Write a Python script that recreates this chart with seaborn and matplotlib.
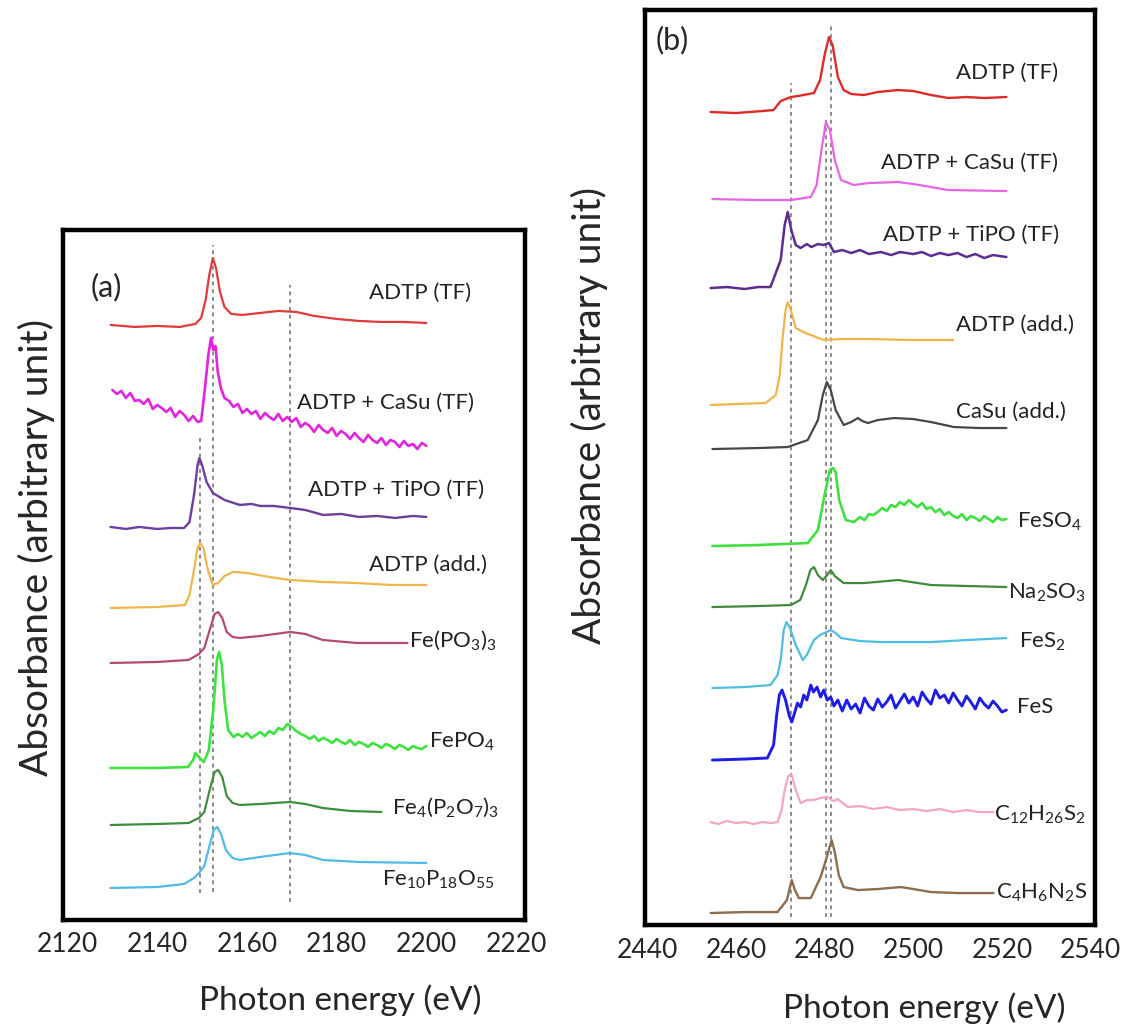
import matplotlib
matplotlib.use("Agg")
import matplotlib.pyplot as plt
import seaborn as sns
import numpy as np

# ---------------- panel (a): P K-edge, values = absorbance + stacking offset (a.u.)
a_tf_e = [2129.6, 2135, 2140, 2145, 2148.5, 2149.8, 2150.8, 2151.6, 2152.4, 2153.1, 2154, 2155,
          2156.5, 2159, 2163, 2167, 2171, 2175, 2180, 2185, 2190, 2195, 2200]
a_tf_y = [595, 593, 594, 593, 596, 602, 620, 645, 662, 652, 628, 613,
          606, 605, 607, 609, 608, 604, 601, 599, 598, 598, 597]

a_casu_e = list(range(2130, 2150)) + [2149.8, 2150.6, 2151.4, 2152.0, 2152.5, 2153.0, 2153.5, 2154.2] \
    + list(range(2155, 2201))
a_casu_y = [530, 526, 529, 522, 527, 519, 520, 516, 521, 511, 515, 512, 508, 512, 503, 509, 505, 499, 504, 498,
            499, 530, 565, 582, 570, 574, 548, 532,
            522, 519, 513, 516, 507, 511, 506, 509, 501, 507, 503, 500, 506, 499, 503, 498, 502, 493, 497, 494,
            488, 495, 490, 487, 492, 484, 489, 486, 481, 487, 482, 478, 485, 480, 477, 482, 475, 480, 478, 473,
            479, 474, 476, 471, 477, 474]

a_tipo_e = [2129.6, 2133, 2136, 2140, 2143, 2146, 2147.2, 2148.2, 2149.0, 2149.4, 2150.0, 2151, 2152.4, 2155,
            2158.4, 2161, 2163, 2166, 2169.6, 2173, 2177, 2181, 2185, 2189, 2193, 2197, 2200]
a_tipo_y = [393, 391, 393, 391, 392, 392, 398, 425, 455, 462, 455, 438, 427, 420,
            415, 416, 414, 414, 412, 410, 405, 406, 403, 404, 402, 404, 403]

a_add_e = [2129.6, 2140, 2146.2, 2147.2, 2148.2, 2149.0, 2149.6, 2150.3, 2151.3, 2152.4, 2153.6, 2155,
           2156.9, 2160, 2165, 2169.6, 2177, 2184.4, 2192, 2200]
a_add_y = [312, 313, 315, 325, 350, 372, 377, 372, 350, 335, 337, 344,
           348, 347, 343, 340, 338, 337, 335, 335]

a_fepo3_e = [2129.6, 2140, 2147, 2149.3, 2150.5, 2151.7, 2152.8, 2153.6, 2154.5, 2155.5, 2156.8, 2158.4,
             2163, 2169.6, 2173, 2176.9, 2184.4, 2195.8]
a_fepo3_y = [257, 258, 260, 266, 272, 290, 306, 308, 302, 288, 283, 282,
             284, 288, 286, 280, 277, 277]

a_fepo4_e = [2129.6, 2140, 2146.9, 2148.0, 2148.5, 2149.3, 2150.4, 2151.5, 2152.5, 2153.3, 2153.8, 2154.4,
             2155.0, 2155.8, 2157] + list(range(2158, 2201))
a_fepo4_y = [152, 152, 153, 160, 167, 163, 158, 170, 210, 260, 268, 255, 220, 190, 183,
             186, 183, 187, 182, 185, 188, 184, 189, 186, 192, 190, 196, 193, 189, 186, 184, 181, 184,
             179, 182, 180, 177, 181, 178, 176, 180, 175, 178, 176, 173, 177, 175, 172, 176, 174, 171,
             175, 173, 170, 174, 172, 171, 174]

a_fe4_e = [2129.6, 2140, 2147, 2149.3, 2150.5, 2151.7, 2152.8, 2153.6, 2154.5, 2155.5, 2156.8, 2158.4,
           2163, 2169.6, 2173, 2176.9, 2183, 2190]
a_fe4_y = [95, 96, 97, 102, 108, 130, 148, 150, 143, 124, 117, 115,
           116, 118, 116, 112, 109, 108]

a_fe10_e = [2129.6, 2140, 2146, 2148.2, 2149.3, 2150.5, 2151.7, 2152.6, 2153.4, 2154.3, 2155.3, 2156.8,
            2158.4, 2163, 2169.6, 2173, 2176.9, 2185, 2200]
a_fe10_y = [32, 33, 36, 42, 47, 54, 75, 90, 93, 85, 70, 62,
            60, 63, 67, 65, 60, 58, 57]

a_names = ["ADTP (TF)", "ADTP + CaSu (TF)", "ADTP + TiPO (TF)", "ADTP (add.)",
           "Fe(PO$_3$)$_3$", "FePO$_4$", "Fe$_4$(P$_2$O$_7$)$_3$", "Fe$_{10}$P$_{18}$O$_{55}$"]
a_colors = ["#e23a3a", "#e024e0", "#6b3f9c", "#efb64c", "#b24a72", "#3ee23e", "#3f8d3f", "#4fbbe6"]
a_widths = [1.6, 1.9, 1.7, 1.6, 1.6, 1.9, 1.6, 1.6]
a_label_e = [2187.3, 2171.1, 2173.6, 2187.3, 2196.2, 2200.7, 2192.4, 2190.2]
a_label_y = [627, 517, 430, 355, 280, 178, 113, 40]
a_ref_e = [2149.6, 2152.4, 2169.6]
a_ref_lo = [27, 28, 18]
a_ref_hi = [482, 675, 635]

# ---------------- panel (b): S K-edge
b_tf_e = [2454.3, 2460, 2466, 2468.5, 2470.1, 2472.4, 2474, 2477.6, 2479, 2480, 2481, 2481.8, 2483.0,
          2484.3, 2486, 2488.9, 2492, 2496.6, 2500, 2504, 2507.9, 2512, 2516, 2521]
b_tf_y = [813, 812, 814, 815, 824, 828, 829, 832, 845, 870, 888, 880, 848,
          835, 831, 830, 833, 835, 834, 830, 827, 828, 827, 828]

b_casu_tf_e = [2454.7, 2465, 2472.4, 2476.9, 2478.2, 2479.3, 2480.3, 2481.2, 2482.3, 2483.7, 2486.6, 2490,
               2496.6, 2500, 2504, 2507.9, 2521]
b_casu_tf_y = [726, 725, 725, 728, 740, 775, 803, 795, 765, 745, 740, 742,
               743, 741, 738, 735, 734]

b_tipo_e = [2454.3, 2458, 2462, 2465, 2467.8, 2470.1, 2471.0, 2471.7, 2472.5, 2473.5, 2474.6, 2476, 2477,
            2478.5, 2479.8, 2481, 2482.1, 2484, 2486, 2488, 2490, 2492.7, 2495, 2497, 2500, 2502, 2504,
            2506, 2507.9, 2510, 2512, 2514, 2516, 2518, 2521]
b_tipo_y = [637, 638, 636, 638, 638, 665, 700, 713, 695, 680, 677, 681, 678,
            681, 680, 682, 673, 675, 672, 675, 671, 673, 670, 673, 671, 673, 669,
            672, 670, 672, 668, 671, 667, 670, 668]

b_add_e = [2454.3, 2460, 2466.7, 2469, 2469.9, 2470.5, 2471.2, 2471.7, 2472.4, 2473.5, 2475.7, 2479.8,
           2483.7, 2490, 2500, 2509]
b_add_y = [520, 521, 522, 530, 550, 585, 615, 623, 615, 597, 592, 585,
           586, 586, 585, 585]

b_casu_e = [2454.7, 2465, 2471.7, 2476.2, 2478.5, 2479.6, 2480.5, 2481.4, 2482.5, 2484.3, 2486, 2487.5,
            2488.5, 2489.8, 2492, 2495.7, 2500, 2504, 2509.2, 2515, 2521]
b_casu_y = [476, 477, 478, 485, 505, 530, 543, 535, 515, 500, 503, 507,
            504, 502, 505, 507, 506, 503, 498, 497, 497]

b_feso4_e = [2454.7, 2465, 2476.2, 2478.5, 2480, 2481.2, 2481.9, 2482.5, 2483.3, 2484.8, 2486.6] \
    + list(range(2488, 2522))
b_feso4_y = [379, 380, 382, 395, 430, 455, 457, 453, 425, 405, 403,
             408, 405, 411, 410, 413, 417, 414, 420, 418, 423, 420, 425, 421, 418, 422, 416, 418, 413,
             416, 410, 413, 409, 407, 411, 405, 409, 407, 404, 409, 406, 403, 408, 405, 406]

b_na_e = [2454.7, 2465, 2472.4, 2474.5, 2475.8, 2476.8, 2477.6, 2478.5, 2479.6, 2480.6, 2481.4, 2482.3,
          2484.3, 2488.9, 2496.6, 2504, 2521]
b_na_y = [318, 319, 320, 325, 340, 355, 358, 350, 345, 350, 355, 349,
          342, 342, 345, 340, 338]

b_fes2_e = [2454.7, 2462, 2467.8, 2469.4, 2470.1, 2470.8, 2471.4, 2472.2, 2473.5, 2475.1, 2476, 2477.6,
            2479, 2481.4, 2482.5, 2483.7, 2488, 2492.7, 2504, 2512, 2521]
b_fes2_y = [237, 238, 240, 250, 265, 295, 303, 297, 280, 265, 270, 285,
            290, 295, 292, 287, 284, 283, 283, 285, 287]

b_fes_e = [2454.7, 2462, 2467.1, 2468.5, 2469.2, 2469.8, 2470.4, 2471.2, 2472, 2472.6, 2473.3, 2473.9,
           2474.6, 2475.3, 2476, 2476.9, 2477.5, 2478.3, 2479.1, 2479.8, 2480.6, 2481.4, 2482.1, 2483] \
    + list(range(2484, 2522))
b_fes_y = [165, 166, 167, 180, 210, 230, 235, 225, 210, 203, 213, 222,
           218, 230, 225, 240, 233, 238, 228, 235, 225, 228, 219, 225,
           214, 225, 216, 221, 212, 227, 219, 215, 226, 218, 223, 230, 217, 224, 231, 222, 228, 219, 233,
           226, 221, 235, 227, 230, 222, 232, 225, 219, 229, 223, 216, 227, 221, 217, 224, 219, 213, 215]

b_c12_e = [2454.3, 2456, 2458, 2460, 2462, 2464, 2466, 2468, 2469.4, 2470.3, 2471, 2471.8, 2472.6, 2473.5,
           2474.6, 2476, 2477.6, 2479, 2480.7, 2482, 2483, 2485.2, 2488, 2491, 2494, 2497, 2500, 2503,
           2506, 2509, 2512, 2515, 2518.1]
b_c12_y = [103, 101, 104, 102, 103, 101, 103, 102, 103, 115, 135, 149, 150, 135,
           122, 125, 125, 127, 128, 124, 126, 118, 119, 116, 118, 115, 116, 114,
           116, 113, 115, 113, 113]

b_c4_e = [2454.3, 2462, 2469.4, 2471.5, 2472.6, 2473.3, 2474.2, 2476.9, 2479.1, 2480.3, 2481.6, 2482.3,
          2483.2, 2484.3, 2487.5, 2492, 2497.2, 2500, 2504, 2510, 2518.1]
b_c4_y = [12, 13, 13, 25, 45, 35, 27, 27, 48, 65, 85, 73,
          50, 38, 35, 36, 38, 36, 33, 32, 32]

b_names = ["ADTP (TF)", "ADTP + CaSu (TF)", "ADTP + TiPO (TF)", "ADTP (add.)", "CaSu (add.)",
           "FeSO$_4$", "Na$_2$SO$_3$", "FeS$_2$", "FeS", "C$_{12}$H$_{26}$S$_2$", "C$_4$H$_6$N$_2$S"]
b_colors = ["#e02a2a", "#e565e5", "#5c2c8f", "#f0b54a", "#474747", "#40e040", "#3f8a3f", "#4dbde2",
            "#1d1de6", "#f5a6b8", "#8e6c4c"]
b_widths = [1.7, 1.6, 1.8, 1.6, 1.6, 1.9, 1.6, 1.6, 2.1, 1.6, 1.7]
b_label_e = [2509.7, 2492.7, 2493.2, 2509.7, 2509.7, 2523.3, 2521.4, 2523.9, 2523.3, 2518.3, 2518.7]
b_label_y = [852, 762, 690, 600, 513, 403, 332, 283, 218, 110, 32]
b_ref_e = [2472.4, 2480.3, 2481.4]
b_ref_lo = [8, 8, 8]
b_ref_hi = [842, 807, 902]

a_curves = [(a_tf_e, a_tf_y), (a_casu_e, a_casu_y), (a_tipo_e, a_tipo_y), (a_add_e, a_add_y),
            (a_fepo3_e, a_fepo3_y), (a_fepo4_e, a_fepo4_y), (a_fe4_e, a_fe4_y), (a_fe10_e, a_fe10_y)]
b_curves = [(b_tf_e, b_tf_y), (b_casu_tf_e, b_casu_tf_y), (b_tipo_e, b_tipo_y), (b_add_e, b_add_y),
            (b_casu_e, b_casu_y), (b_feso4_e, b_feso4_y), (b_na_e, b_na_y), (b_fes2_e, b_fes2_y),
            (b_fes_e, b_fes_y), (b_c12_e, b_c12_y), (b_c4_e, b_c4_y)]

sns.set_style("white")
plt.rcParams['font.family'] = ['Lato', 'DejaVu Sans']
plt.rcParams['mathtext.fontset'] = 'custom'
plt.rcParams['mathtext.rm'] = 'Lato'
plt.rcParams['mathtext.it'] = 'Lato:italic'

fig = plt.figure(figsize=(11.44, 10.33), dpi=100)
ax_a = fig.add_axes([0.0551, 0.1094, 0.4038, 0.668])
ax_b = fig.add_axes([0.5638, 0.1045, 0.3934, 0.8858])


def draw_panel(ax, curves, names, colors, widths, lab_e, lab_y, ref_e, ref_lo, ref_hi):
    ax.vlines(ref_e, ref_lo, ref_hi, colors="#8a8a8a", linestyles=(0, (2, 2)), linewidth=1.4)
    for (e, y), c, w in zip(curves, colors, widths):
        sns.lineplot(x=np.array(e, dtype=float), y=np.array(y, dtype=float), ax=ax, color=c,
                     linewidth=w, estimator=None)
    for n, x, y in zip(names, lab_e, lab_y):
        ax.text(x, y, n, fontsize=16, va="center", ha="left", color="#222222")


draw_panel(ax_a, a_curves, a_names, a_colors, a_widths, a_label_e, a_label_y, a_ref_e, a_ref_lo, a_ref_hi)
draw_panel(ax_b, b_curves, b_names, b_colors, b_widths, b_label_e, b_label_y, b_ref_e, b_ref_lo, b_ref_hi)

ax_a.set_xlim(2119, 2222)
ax_a.set_ylim(0, 690)
ax_a.set_xticks([2120, 2140, 2160, 2180, 2200, 2220])
ax_a.set_xticks([2130, 2150, 2170, 2190, 2210], minor=True)
ax_b.set_xlim(2439.5, 2541)
ax_b.set_ylim(0, 915)
ax_b.set_xticks([2440, 2460, 2480, 2500, 2520, 2540])
ax_b.set_xticks([2450, 2470, 2490, 2510, 2530], minor=True)

ax_a.text(2125.1, 633, "(a)", fontsize=22, va="center", ha="left")
ax_b.text(2441.8, 885, "(b)", fontsize=22, va="center", ha="left")

for ax, lx, ly in [(ax_a, 0.6, -0.094), (ax_b, 0.62, -0.074)]:
    ax.set_yticks([])
    ax.tick_params(axis="x", which="both", direction="in", color="#b0b0b0", length=6, width=1,
                   labelsize=19, pad=9)
    for s in ax.spines.values():
        s.set_linewidth(3.2)
        s.set_color("black")
    ax.set_xlabel("Photon energy (eV)", fontsize=24)
    ax.xaxis.set_label_coords(lx, ly)
    ax.set_ylabel("Absorbance (arbitrary unit)", fontsize=28)

ax_a.yaxis.set_label_coords(-0.018, 0.54)
ax_b.yaxis.set_label_coords(-0.082, 0.557)

fig.savefig("out.png", dpi=100)
